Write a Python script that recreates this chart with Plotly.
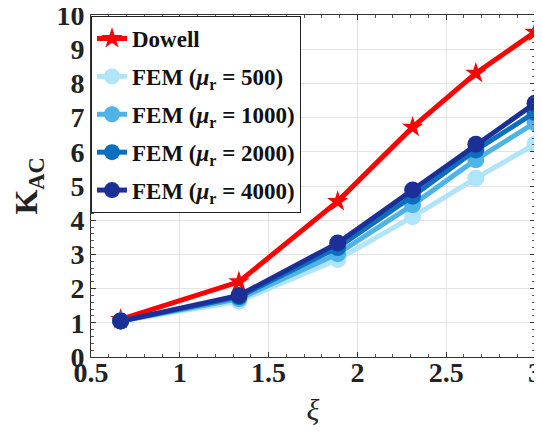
import plotly.graph_objects as go

xi = [0.667, 1.333, 1.889, 2.311, 2.667, 3.0]
dowell = [1.1, 2.2, 4.55, 6.72, 8.3, 9.5]
fem_500 = [1.05, 1.63, 2.85, 4.1, 5.23, 6.22]
fem_1000 = [1.05, 1.7, 3.02, 4.45, 5.77, 6.85]
fem_2000 = [1.05, 1.76, 3.2, 4.7, 6.05, 7.15]
fem_4000 = [1.05, 1.8, 3.33, 4.88, 6.22, 7.42]

names = ["<b>Dowell</b>",
         "<b>FEM (<i>μ</i><sub>r</sub> = 500)</b>",
         "<b>FEM (<i>μ</i><sub>r</sub> = 1000)</b>",
         "<b>FEM (<i>μ</i><sub>r</sub> = 2000)</b>",
         "<b>FEM (<i>μ</i><sub>r</sub> = 4000)</b>"]
colors = ["#ff0000", "#b0e4f8", "#4eb3e6", "#0a6fbf", "#1c2f96"]
series = [dowell, fem_500, fem_1000, fem_2000, fem_4000]

fig = go.Figure()
for i in range(len(series)):
    ys, nm, c = series[i], names[i], colors[i]
    symbol = "star" if i == 0 else "circle"
    fig.add_trace(go.Scatter(x=xi, y=ys, name=nm, mode="lines+markers",
                             line=dict(color=c, width=5),
                             marker=dict(symbol=symbol, size=17 if i else 16, color=c),
                             legendgroup=str(i), cliponaxis=False))

font_family = "Liberation Serif, Times New Roman, serif"
axis_common = dict(
    showline=True, linecolor="#333", linewidth=1, mirror="ticks",
    ticks="inside", ticklen=5, tickcolor="#333",
    showgrid=True, gridcolor="#e3e3e3", gridwidth=1, zeroline=False,
    tickfont=dict(family=font_family, size=28, color="#222"),
    automargin=False, ticklabeloverflow="allow",
)
fig.update_xaxes(**axis_common, range=[0.5, 3],
                 tickvals=[0.5, 1, 1.5, 2, 2.5, 3],
                 ticktext=["<b>0.5</b>", "<b>1</b>", "<b>1.5</b>", "<b>2</b>", "<b>2.5</b>", "<b>3</b>"],
                 minor=dict(ticks="inside", ticklen=3, dtick=0.1, tickcolor="#555", showgrid=False),
                 ticklabelstandoff=-10,
                 title=dict(text="<i>ξ</i>", font=dict(family=font_family, size=30, color="#222"), standoff=12))
fig.update_yaxes(**axis_common, range=[0, 10],
                 tickvals=list(range(11)),
                 ticktext=[f"<b>{v}</b>" for v in range(11)],
                 minor=dict(ticks="inside", ticklen=3, dtick=0.2, tickcolor="#555", showgrid=False),
                 title=dict(text="<b>K<sub>AC</sub></b>", font=dict(family=font_family, size=32, color="#222"), standoff=13))

fig.update_layout(
    width=542, height=432,
    margin=dict(l=83, r=15, t=7, b=83),
    plot_bgcolor="white", paper_bgcolor="white",
    font=dict(family=font_family, color="#111"),
    legend=dict(x=0.0, y=0.997, xanchor="left", yanchor="top",
                bgcolor="white", bordercolor="#222", borderwidth=1,
                font=dict(family=font_family, size=23, color="#111"),
                traceorder="grouped", tracegroupgap=5, itemwidth=30),
)
fig.write_html("out.html")
